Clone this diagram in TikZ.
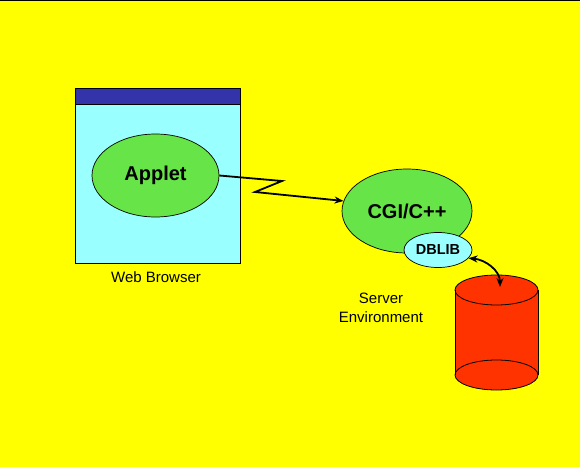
\documentclass[tikz,border=0pt]{standalone}
\usepackage{fontspec}
\setmainfont{Liberation Sans}
\usetikzlibrary{shapes.geometric,arrows.meta}
\definecolor{bgyellow}{RGB}{255,255,0}
\definecolor{wincyan}{RGB}{153,255,255}
\definecolor{titleblue}{RGB}{51,51,170}
\definecolor{blobgreen}{RGB}{102,228,72}
\definecolor{dbred}{RGB}{255,51,0}
\tikzset{
  blob/.style={ellipse, draw=black, line width=0.7pt, fill=blobgreen, inner sep=0pt, font=\bfseries\fontsize{20}{24}\selectfont},
  smallblob/.style={ellipse, draw=black, line width=0.7pt, fill=wincyan, inner sep=0pt, font=\bfseries\fontsize{14.5}{16}\selectfont},
  caption/.style={font=\fontsize{15}{19}\selectfont, align=center, inner sep=0pt},
  link/.style={line width=1.8pt, -{Stealth[length=9pt,width=7pt]}},
}
\begin{document}
\begin{tikzpicture}[x=1pt,y=1pt]
\useasboundingbox (0,0) rectangle (580,467);
\fill[bgyellow] (0,0) rectangle (580,467);
\draw[black, line width=1.2pt] (0,466.6) -- (580,466.6);
% browser window
\fill[wincyan] (75,204) rectangle (240,379);
\fill[titleblue] (75,363) rectangle (240,379);
\draw[line width=0.8pt] (75,204) rectangle (240,379);
\draw[line width=0.8pt] (75,363) -- (240,363);
\node[blob, minimum width=127pt, minimum height=83pt] (applet) at (155.5,291.5) {Applet};
\node[caption] (wb) at (156,190) {Web Browser};
% server
\node[blob, minimum width=130pt, minimum height=84pt] (cgi) at (407,256) {CGI/C++};
\node[smallblob, minimum width=68pt, minimum height=35pt] (dblib) at (438,217) {DBLIB};
\node[caption] (srv) at (381,159.5) {Server\\Environment};
% lightning link
\coordinate (z1) at (282,286);
\coordinate (z2) at (255,275);
\draw[link] (applet.east) -- (z1) -- (z2) -- (cgi.171);
% cylinder
\fill[dbred] (455,177) -- (455,92) arc[start angle=180,end angle=360,x radius=41.5,y radius=15] -- (538,177) arc[start angle=0,end angle=180,x radius=41.5,y radius=15] -- cycle;
\draw[line width=0.8pt] (455,177) -- (455,92);
\draw[line width=0.8pt] (538,177) -- (538,92);
\draw[line width=0.8pt] (496.5,92) ellipse[x radius=41.5,y radius=15];
\draw[line width=0.8pt] (496.5,177) ellipse[x radius=41.5,y radius=15];
\coordinate (cyltop) at (500,180);
\draw[line width=1.8pt, {Stealth[length=9pt,width=7pt]}-{Stealth[length=9pt,width=7pt]}] (dblib.-15) to[out=-5, in=90] (cyltop);
\end{tikzpicture}
\end{document}
